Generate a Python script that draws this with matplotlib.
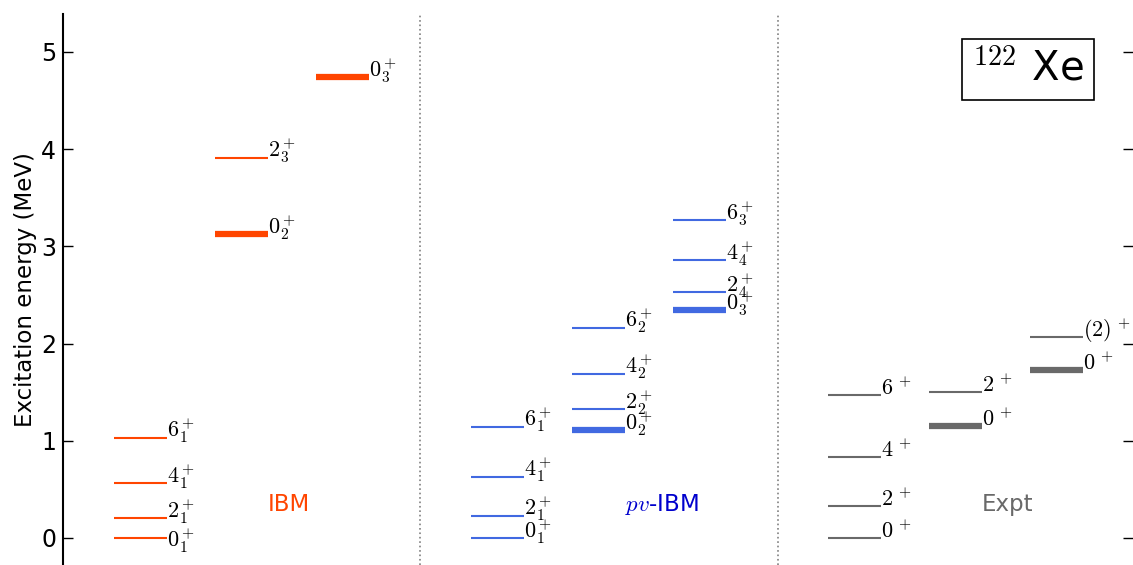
import matplotlib.pyplot as plt

plt.rcParams['mathtext.fontset'] = 'cm'
plt.rcParams['font.family'] = 'DejaVu Sans'

# IBM levels (MeV), column in the group, label
ibm_E = [0.0, 0.204, 0.567, 1.031, 3.127, 3.913, 4.740]
ibm_col = [0, 0, 0, 0, 1, 1, 2]
ibm_lab = ['0_1', '2_1', '4_1', '6_1', '0_2', '2_3', '0_3']

# pv-IBM levels
pv_E = [0.0, 0.23, 0.63, 1.145, 1.11, 1.324, 1.69, 2.164, 2.346, 2.53, 2.857, 3.268]
pv_col = [0, 0, 0, 0, 1, 1, 1, 1, 2, 2, 2, 2]
pv_lab = ['0_1', '2_1', '4_1', '6_1', '0_2', '2_2', '4_2', '6_2', '0_3', '2_4', '4_4', '6_3']

# experiment
ex_E = [0.0, 0.334, 0.835, 1.473, 1.157, 1.502, 1.725, 2.07]
ex_col = [0, 0, 0, 0, 1, 1, 2, 2]
ex_lab = ['0', '2', '4', '6', '0', '2', '0', '(2)']

groups = [
    ('IBM', ibm_E, ibm_col, ibm_lab, 'orangered', 'orangered'),
    ('pv-IBM', pv_E, pv_col, pv_lab, 'royalblue', 'mediumblue'),
    ('Expt', ex_E, ex_col, ex_lab, 'dimgray', 'dimgray'),
]

# label nudges (MeV) to keep labels apart
nudge = {('IBM', '0_1'): -0.1}

fig = plt.figure(figsize=(11.33, 5.65), dpi=100)
ax = fig.add_axes([63/1133, 0.0, 1 - 63/1133, 1 - 14/565])

gstep = 3.57
cstep = 1.01
w = 0.53

for g, (name, E, col, lab, lc, tc) in enumerate(groups):
    x0 = 0.51 + gstep*g
    for e, c, l in zip(E, col, lab):
        xs = x0 + cstep*c
        thick = (c > 0 and l.startswith('0'))
        ax.plot([xs, xs + w], [e, e], color=lc, lw=4.5 if thick else 1.5,
                solid_capstyle='butt')
        ty = e + nudge.get((name, l), 0.0)
        if '_' in l:
            s, k = l.split('_')
            txt = r'$%s^+_%s$' % (s, k)
        else:
            txt = r'$%s^{\,+}$' % l
        ax.text(xs + w, ty, txt, ha='left', va='baseline', fontsize=16)
    if name == 'pv-IBM':
        ax.text(x0 + 1.54, 0.34, r'$pv$-IBM', color=tc, fontsize=16.5,
                ha='left', va='center')
    else:
        ax.text(x0 + 1.54, 0.34, name, color=tc, fontsize=16.5,
                ha='left', va='center')

for xv in [3.57, 7.15]:
    ax.axvline(xv, color='gray', ls=':', lw=1.2)

ax.text(9.65, 4.82, r'$^{122}$ Xe', fontsize=29, ha='center', va='center',
        bbox=dict(boxstyle='square,pad=0.25', fc='white', ec='black', lw=1.2))

ax.set_xlim(0, 10.7)
ax.set_ylim(-0.278, 5.39)
ax.set_yticks([0, 1, 2, 3, 4, 5])
ax.set_xticks([])
ax.tick_params(axis='y', direction='in', length=7, width=1, right=True,
               labelsize=17, pad=5)
for sp in ['top', 'right', 'bottom']:
    ax.spines[sp].set_visible(False)
ax.spines['left'].set_linewidth(1.5)
ax.set_ylabel('Excitation energy (MeV)', fontsize=16.5, labelpad=3)

fig.savefig('out.png', dpi=100)
